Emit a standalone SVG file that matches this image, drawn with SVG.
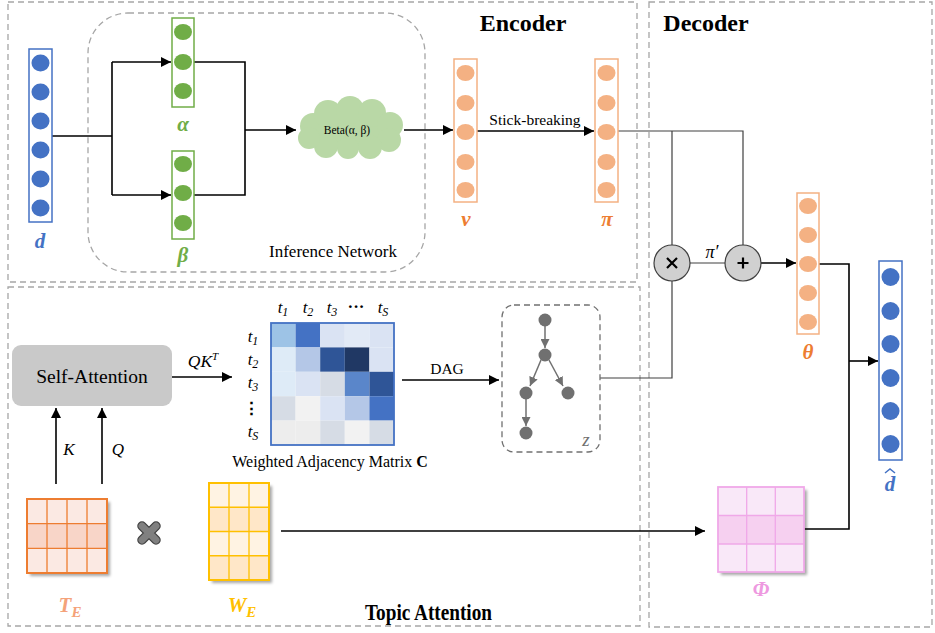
<svg xmlns="http://www.w3.org/2000/svg" width="935" height="633" viewBox="0 0 935 633">
<style>
.dash{fill:none;stroke:#a6a6a6;stroke-width:1.3;stroke-dasharray:6 4}
.ln{fill:none;stroke:#000;stroke-width:1.6}
.ln2{fill:none;stroke:#404040;stroke-width:1.2}
.t{font-family:"Liberation Serif","Times New Roman",Tinos,"DejaVu Serif",serif;fill:#000}
.ti{font-family:"Liberation Serif","Times New Roman",Tinos,"DejaVu Serif",serif;font-style:italic}
.lab{font-family:"Liberation Serif","Times New Roman",Tinos,"DejaVu Serif",serif;font-style:italic;font-weight:bold;font-size:21px;text-anchor:middle}
.bcirc{fill:#4472c4}.gcirc{fill:#70ad47}.ocirc{fill:#f4b183}
</style>
<defs>
<marker id="ah" viewBox="0 0 10 10" refX="10" refY="5" markerWidth="10" markerHeight="10" markerUnits="userSpaceOnUse" orient="auto"><path d="M0,0 L10,5 L0,10 z" fill="#000"/></marker>
<marker id="ahg" viewBox="0 0 10 10" refX="10" refY="5" markerWidth="9" markerHeight="9" markerUnits="userSpaceOnUse" orient="auto"><path d="M0,0 L10,5 L0,10 z" fill="#707070"/></marker>
<filter id="sh" x="-20%" y="-20%" width="150%" height="150%"><feDropShadow dx="3" dy="3" stdDeviation="1.5" flood-color="#000" flood-opacity="0.35"/></filter>
</defs>

<!-- section boxes -->
<g id="encoder-box">
<rect class="dash" x="8" y="2" width="629" height="280"/>
<text class="t" x="523" y="31" font-size="24" font-weight="bold" text-anchor="middle">Encoder</text>
</g>
<g id="topic-box">
<rect class="dash" x="8" y="287" width="632" height="339"/>
<text class="t" x="365" y="620" font-size="23" font-weight="bold" textLength="127" lengthAdjust="spacingAndGlyphs">Topic Attention</text>
</g>
<g id="decoder-box">
<rect class="dash" x="649" y="2" width="283" height="625"/>
<text class="t" x="706" y="31" font-size="24" font-weight="bold" text-anchor="middle">Decoder</text>
</g>
<g id="inference-network">
<rect class="dash" x="88" y="13" width="337" height="259" rx="40"/>
<text class="t" x="333" y="257" font-size="17" text-anchor="middle">Inference Network</text>
</g>

<!-- connectors -->
<g id="connectors">
<path class="ln" d="M52,136 H112 M112,62 V195"/>
<path class="ln" d="M112,62 H171" marker-end="url(#ah)"/>
<path class="ln" d="M112,195 H171" marker-end="url(#ah)"/>
<path class="ln" d="M194,62 H245 V195 H194"/>
<path class="ln" d="M245,130 H296" marker-end="url(#ah)"/>
<path class="ln" d="M404,130 H453" marker-end="url(#ah)"/>
<path class="ln" d="M477,131 H594" marker-end="url(#ah)"/>
<text class="t" x="535" y="125" font-size="15.5" text-anchor="middle">Stick-breaking</text>
<path class="ln2" d="M618,131 H743 V245 M672,131 V245"/>
<path class="ln2" d="M690,263 H725"/>
<text class="ti" x="712" y="258" font-size="18" text-anchor="middle">π′</text>
<path class="ln" d="M761,263 H796" marker-end="url(#ah)"/>
<path class="ln2" d="M600,378 H672 V281"/>
<path class="ln" d="M819,264 H849 V529 H804"/>
<path class="ln" d="M849,361 H878" marker-end="url(#ah)"/>
<path class="ln" d="M281,531 H705" marker-end="url(#ah)"/>
<path class="ln" d="M172,377 H232" marker-end="url(#ah)"/>
<text class="ti" x="203" y="367" font-size="17.5" text-anchor="middle">QK<tspan font-size="11" dy="-7">T</tspan></text>
<path class="ln" d="M402,380 H499" marker-end="url(#ah)"/>
<text class="t" x="447" y="374" font-size="15.5" text-anchor="middle">DAG</text>
<path class="ln" d="M56,484 V408" marker-end="url(#ah)"/>
<path class="ln" d="M102,484 V408" marker-end="url(#ah)"/>
<text class="ti" x="69" y="455" font-size="17" text-anchor="middle">K</text>
<text class="ti" x="118" y="455" font-size="17" text-anchor="middle">Q</text>
</g>

<!-- d -->
<g id="d">
<rect x="29" y="49" width="23" height="173" fill="#fff" stroke="#4472c4" stroke-width="1.5"/>
<ellipse class="bcirc" cx="40.5" cy="63" rx="9" ry="8.5"/>
<ellipse class="bcirc" cx="40.5" cy="92" rx="9" ry="8.5"/>
<ellipse class="bcirc" cx="40.5" cy="121" rx="9" ry="8.5"/>
<ellipse class="bcirc" cx="40.5" cy="150" rx="9" ry="8.5"/>
<ellipse class="bcirc" cx="40.5" cy="179" rx="9" ry="8.5"/>
<ellipse class="bcirc" cx="40.5" cy="208" rx="9" ry="8.5"/>
<text class="lab" x="40" y="248" fill="#4472c4">d</text>
</g>

<!-- alpha -->
<g id="alpha">
<rect x="172" y="18" width="22" height="89" fill="#fff" stroke="#70ad47" stroke-width="1.5"/>
<ellipse class="gcirc" cx="183" cy="32" rx="9" ry="8"/>
<ellipse class="gcirc" cx="183" cy="62" rx="9" ry="8"/>
<ellipse class="gcirc" cx="183" cy="91" rx="9" ry="8"/>
<text class="lab" x="183" y="131" fill="#70ad47">α</text>
</g>
<g id="beta">
<rect x="172" y="151" width="22" height="88" fill="#fff" stroke="#70ad47" stroke-width="1.5"/>
<ellipse class="gcirc" cx="183" cy="164" rx="9" ry="8"/>
<ellipse class="gcirc" cx="183" cy="193" rx="9" ry="8"/>
<ellipse class="gcirc" cx="183" cy="223" rx="9" ry="8"/>
<text class="lab" x="183" y="262" fill="#70ad47">β</text>
</g>

<!-- cloud -->
<g id="beta-dist" fill="#b9d8a6">
<ellipse cx="350" cy="130" rx="44" ry="20"/>
<circle cx="313" cy="126" r="13"/>
<circle cx="328" cy="114" r="14"/>
<circle cx="350" cy="110" r="14"/>
<circle cx="372" cy="113" r="14"/>
<circle cx="390" cy="125" r="13"/>
<circle cx="389" cy="140" r="12"/>
<circle cx="370" cy="147" r="12"/>
<circle cx="348" cy="148" r="11"/>
<circle cx="326" cy="146" r="12"/>
<circle cx="309" cy="138" r="11"/>
<text class="t" x="347" y="134" font-size="11.5" text-anchor="middle" fill="#222">Beta(α, β)</text>
</g>

<!-- v -->
<g id="v">
<rect x="454" y="59" width="23" height="143" fill="#fff" stroke="#f4b183" stroke-width="1.5"/>
<ellipse class="ocirc" cx="465.5" cy="73" rx="9" ry="8"/>
<ellipse class="ocirc" cx="465.5" cy="103" rx="9" ry="8"/>
<ellipse class="ocirc" cx="465.5" cy="132" rx="9" ry="8"/>
<ellipse class="ocirc" cx="465.5" cy="162" rx="9" ry="8"/>
<ellipse class="ocirc" cx="465.5" cy="190" rx="9" ry="8"/>
<text class="lab" x="466" y="226" fill="#ed7d31">v</text>
</g>
<g id="pi">
<rect x="595" y="59" width="23" height="143" fill="#fff" stroke="#f4b183" stroke-width="1.5"/>
<ellipse class="ocirc" cx="606.5" cy="73" rx="9" ry="8"/>
<ellipse class="ocirc" cx="606.5" cy="103" rx="9" ry="8"/>
<ellipse class="ocirc" cx="606.5" cy="132" rx="9" ry="8"/>
<ellipse class="ocirc" cx="606.5" cy="162" rx="9" ry="8"/>
<ellipse class="ocirc" cx="606.5" cy="190" rx="9" ry="8"/>
<text class="lab" x="607" y="226" fill="#ed7d31">π</text>
</g>

<!-- operators -->
<g id="mul">
<circle cx="672" cy="263" r="18" fill="#d0d0d0" stroke="#404040" stroke-width="1.2"/>
<path d="M667,258 L677,268 M677,258 L667,268" stroke="#000" stroke-width="2.2"/>
</g>
<g id="add">
<circle cx="743" cy="263" r="18" fill="#d0d0d0" stroke="#404040" stroke-width="1.2"/>
<path d="M737.5,263 H748.5 M743,257.5 V268.5" stroke="#000" stroke-width="2.2"/>
</g>

<!-- theta -->
<g id="theta">
<rect x="797" y="193" width="22" height="141" fill="#fff" stroke="#f4b183" stroke-width="1.5"/>
<ellipse class="ocirc" cx="808" cy="206" rx="9" ry="8"/>
<ellipse class="ocirc" cx="808" cy="235" rx="9" ry="8"/>
<ellipse class="ocirc" cx="808" cy="264" rx="9" ry="8"/>
<ellipse class="ocirc" cx="808" cy="293" rx="9" ry="8"/>
<ellipse class="ocirc" cx="808" cy="322" rx="9" ry="8"/>
<text class="lab" x="808" y="359" fill="#ed7d31">θ</text>
</g>

<!-- d hat -->
<g id="d-hat">
<rect x="879" y="261" width="23" height="199" fill="#fff" stroke="#4472c4" stroke-width="1.5"/>
<circle class="bcirc" cx="890.5" cy="277" r="9"/>
<circle class="bcirc" cx="890.5" cy="311" r="9"/>
<circle class="bcirc" cx="890.5" cy="344" r="9"/>
<circle class="bcirc" cx="890.5" cy="378" r="9"/>
<circle class="bcirc" cx="890.5" cy="411" r="9"/>
<circle class="bcirc" cx="890.5" cy="444" r="9"/>
<text class="lab" x="890" y="491" fill="#4472c4">d</text>
<path d="M885,473 L890,469 L895,473" fill="none" stroke="#4472c4" stroke-width="1.5"/>
</g>

<!-- Phi -->
<g id="phi">
<g filter="url(#sh)">
<rect x="718" y="487" width="86" height="85" fill="#f9e8f8"/>
</g>
<rect x="718" y="515.5" width="86" height="28.5" fill="#f6d0f0"/>
<path d="M746.7,487 V572 M775.3,487 V572 M718,515.5 H804 M718,544 H804" stroke="#f0a8e8" stroke-width="1.3"/>
<rect x="718" y="487" width="86" height="85" fill="none" stroke="#f0a8e8" stroke-width="1.8"/>
<text class="lab" x="761" y="596" fill="#ee99e0">Φ</text>
</g>

<!-- Self-Attention -->
<g id="self-attention">
<rect x="12" y="345" width="160" height="61" rx="9" fill="#c9c9c9"/>
<text class="t" x="92" y="383" font-size="19.5" text-anchor="middle">Self-Attention</text>
</g>

<!-- adjacency matrix -->
<g id="adjacency-matrix">
<rect x="271" y="323" width="24.6" height="24.4" fill="#9dc3e6"/>
<rect x="295.6" y="323" width="24.6" height="24.4" fill="#4472c4"/>
<rect x="320.2" y="323" width="24.6" height="24.4" fill="#dae3f3"/>
<rect x="344.8" y="323" width="24.6" height="24.4" fill="#e2eaf6"/>
<rect x="369.4" y="323" width="24.6" height="24.4" fill="#dae3f3"/>
<rect x="271" y="347.4" width="24.6" height="24.4" fill="#deebf7"/>
<rect x="295.6" y="347.4" width="24.6" height="24.4" fill="#b4c7e7"/>
<rect x="320.2" y="347.4" width="24.6" height="24.4" fill="#2f5597"/>
<rect x="344.8" y="347.4" width="24.6" height="24.4" fill="#203864"/>
<rect x="369.4" y="347.4" width="24.6" height="24.4" fill="#dae3f3"/>
<rect x="271" y="371.8" width="24.6" height="24.4" fill="#deebf7"/>
<rect x="295.6" y="371.8" width="24.6" height="24.4" fill="#dae3f3"/>
<rect x="320.2" y="371.8" width="24.6" height="24.4" fill="#d6dce5"/>
<rect x="344.8" y="371.8" width="24.6" height="24.4" fill="#5a86ca"/>
<rect x="369.4" y="371.8" width="24.6" height="24.4" fill="#2f5597"/>
<rect x="271" y="396.2" width="24.6" height="24.4" fill="#d6dce5"/>
<rect x="295.6" y="396.2" width="24.6" height="24.4" fill="#f2f2f2"/>
<rect x="320.2" y="396.2" width="24.6" height="24.4" fill="#dae3f3"/>
<rect x="344.8" y="396.2" width="24.6" height="24.4" fill="#b4c7e7"/>
<rect x="369.4" y="396.2" width="24.6" height="24.4" fill="#4472c4"/>
<rect x="271" y="420.6" width="24.6" height="24.4" fill="#ededed"/>
<rect x="295.6" y="420.6" width="24.6" height="24.4" fill="#ededed"/>
<rect x="320.2" y="420.6" width="24.6" height="24.4" fill="#d6dce5"/>
<rect x="344.8" y="420.6" width="24.6" height="24.4" fill="#f2f2f2"/>
<rect x="369.4" y="420.6" width="24.6" height="24.4" fill="#d6dce5"/>
<rect x="271" y="323" width="123" height="122" fill="none" stroke="#4472c4" stroke-width="1.8"/>
<g class="ti" font-size="17" text-anchor="middle">
<text x="283" y="313">t<tspan font-size="12" dy="3">1</tspan></text>
<text x="308" y="313">t<tspan font-size="12" dy="3">2</tspan></text>
<text x="332" y="313">t<tspan font-size="12" dy="3">3</tspan></text>
<text x="356" y="312" font-style="normal" font-weight="bold">···</text>
<text x="383" y="313">t<tspan font-size="12" dy="3">S</tspan></text>
<text x="253" y="342">t<tspan font-size="12" dy="3">1</tspan></text>
<text x="253" y="365">t<tspan font-size="12" dy="3">2</tspan></text>
<text x="253" y="388">t<tspan font-size="12" dy="3">3</tspan></text>
<text x="251" y="414" font-style="normal" font-weight="bold">⋮</text>
<text x="253" y="437">t<tspan font-size="12" dy="3">S</tspan></text>
</g>
<text class="t" x="330" y="467" font-size="16" text-anchor="middle">Weighted Adjacency Matrix <tspan font-weight="bold">C</tspan></text>
</g>

<!-- DAG z -->
<g id="dag-z">
<rect x="502" y="305" width="98" height="147" rx="12" style="fill:none;stroke:#707070;stroke-width:1.3;stroke-dasharray:6 4"/>
<g stroke="#707070" stroke-width="1.5" fill="none">
<path d="M545,326 V348" marker-end="url(#ahg)"/>
<path d="M541,360 L530,386" marker-end="url(#ahg)"/>
<path d="M549,360 L563,386" marker-end="url(#ahg)"/>
<path d="M526,399 V426" marker-end="url(#ahg)"/>
</g>
<g fill="#707070">
<circle cx="545" cy="320" r="6.5"/>
<circle cx="545" cy="355" r="6.5"/>
<circle cx="526" cy="393" r="6.5"/>
<circle cx="568" cy="393" r="6.5"/>
<circle cx="526" cy="433" r="6.5"/>
</g>
<text class="ti" x="586" y="446" font-size="19" fill="#707070" text-anchor="middle">z</text>
</g>

<!-- T_E -->
<g id="T-E">
<g filter="url(#sh)"><rect x="27" y="499" width="80" height="74" fill="#fbe9e3"/></g>
<rect x="27" y="523.7" width="80" height="24.7" fill="#f8d5c8"/>
<path d="M47,499 V573 M67,499 V573 M87,499 V573 M27,523.7 H107 M27,548.3 H107" stroke="#ed7d31" stroke-width="1.3"/>
<rect x="27" y="499" width="80" height="74" fill="none" stroke="#ed7d31" stroke-width="2"/>
<text class="lab" x="70" y="612" fill="#f4a27a" font-size="22">T<tspan font-size="15" dy="5">E</tspan></text>
</g>

<!-- times icon -->
<g id="times-icon" fill="none" stroke-linecap="round">
<path d="M142,526 L156,540 M156,526 L142,540" stroke="#3f3f3f" stroke-width="9.5"/>
<path d="M142,526 L156,540 M156,526 L142,540" stroke="#808080" stroke-width="7"/>
</g>

<!-- W_E -->
<g id="W-E">
<g filter="url(#sh)"><rect x="209" y="483" width="60" height="97" fill="#fff3e3"/></g>
<rect x="209" y="507.25" width="60" height="24.25" fill="#ffe7c8"/>
<rect x="209" y="555.75" width="60" height="24.25" fill="#ffe7c8"/>
<path d="M229,483 V580 M249,483 V580 M209,507.25 H269 M209,531.5 H269 M209,555.75 H269" stroke="#ffc000" stroke-width="1.3"/>
<rect x="209" y="483" width="60" height="97" fill="none" stroke="#ffc000" stroke-width="2"/>
<text class="lab" x="242" y="612" fill="#ffc000" font-size="22">W<tspan font-size="15" dy="5">E</tspan></text>
</g>
</svg>
